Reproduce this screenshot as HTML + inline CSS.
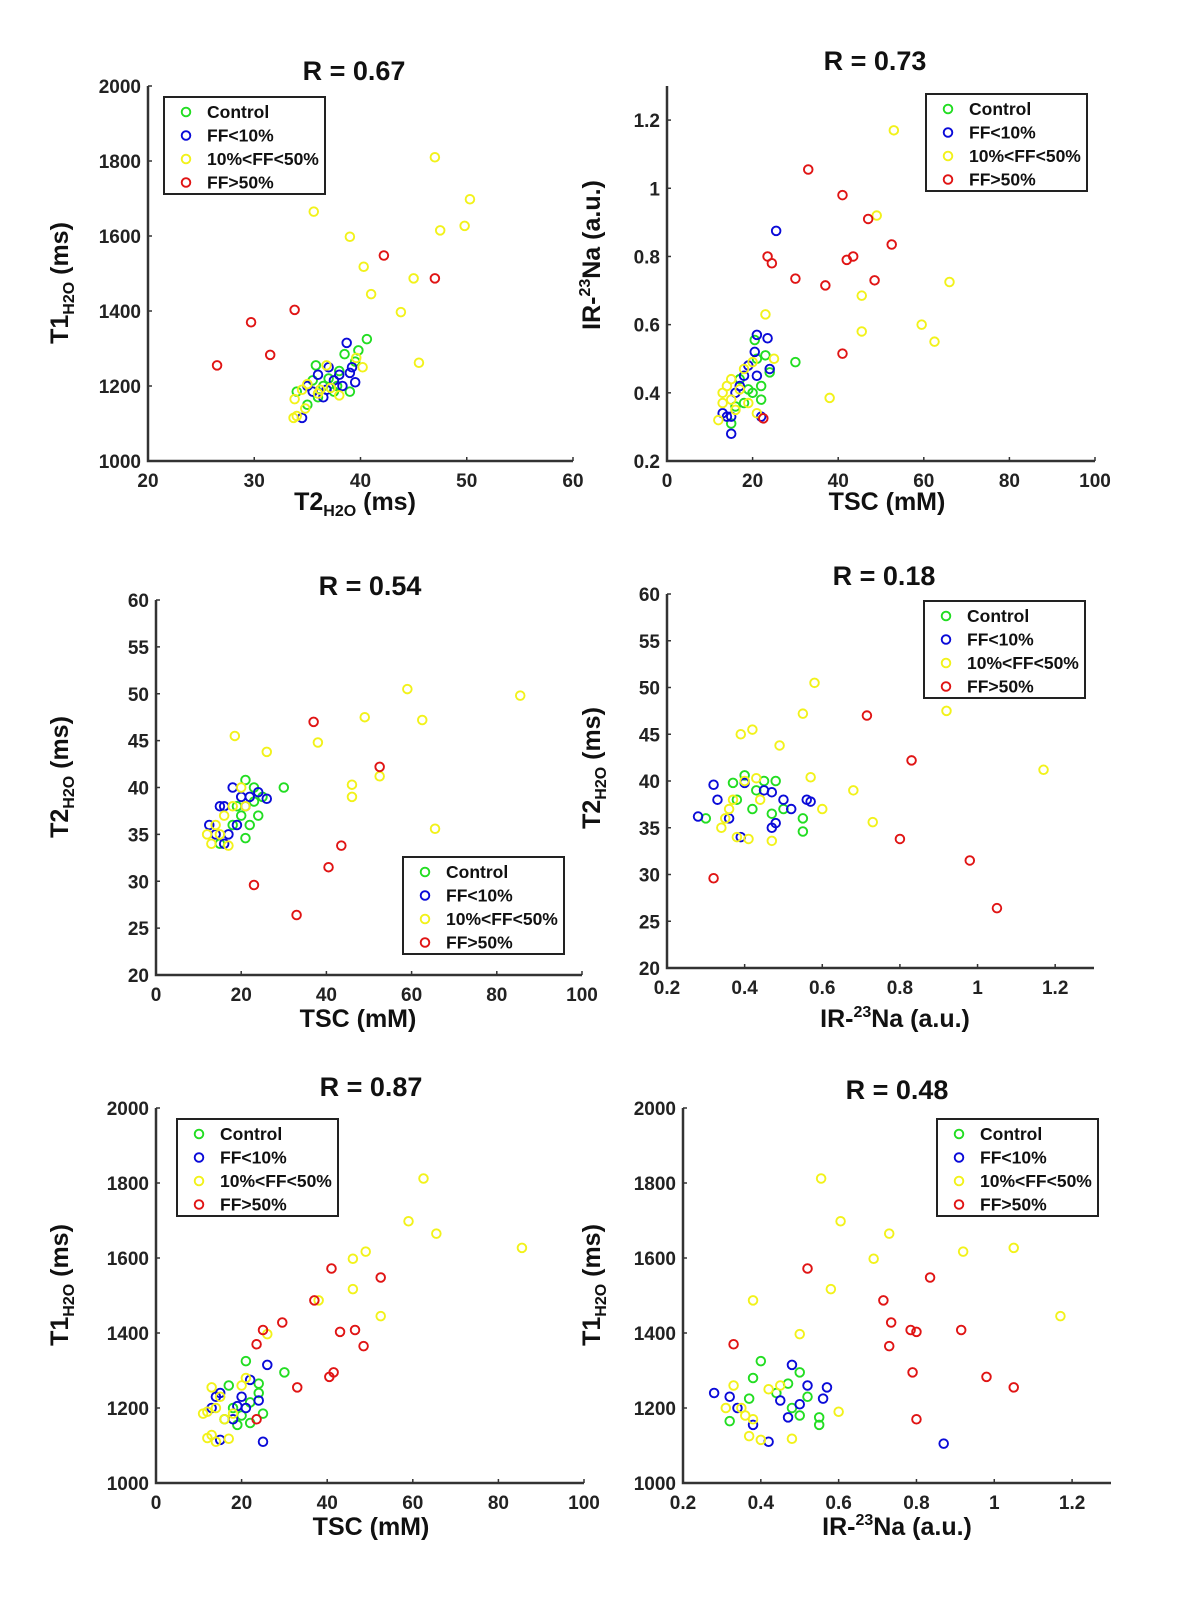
<!DOCTYPE html>
<html><head><meta charset="utf-8">
<style>
html,body{margin:0;padding:0;background:#fff;}
svg{display:block;font-family:"Liberation Sans",Arial,sans-serif;font-weight:bold;}
</style></head>
<body>
<svg id="fig" width="1186" height="1597" viewBox="0 0 1186 1597" xmlns="http://www.w3.org/2000/svg"></svg>
<script>
// ---------- Panel 1: T2 vs T1 ----------
const p1Red = [[26.5,1255],[29.7,1370],[31.5,1283],[33.8,1403],[42.2,1548],[47,1487]];
const p1Yellow = [[35.6,1665],[39,1598],[40.3,1518],[41,1445],[43.8,1397],[45,1487],[45.5,1262],[47,1810],[47.5,1615],[49.8,1627],[50.3,1698],[33.7,1115],[34,1120],[33.8,1165],[34.5,1190],[35,1205],[36,1180],[36.8,1255],[37.2,1195],[38,1175],[39.6,1275],[40.2,1250],[34.8,1140],[36.2,1190]];
const p1Green = [[34,1185],[35,1150],[35.8,1255],[36.5,1200],[37,1220],[37.5,1185],[38,1240],[38.5,1285],[39,1185],[39.5,1265],[39.8,1295],[40.6,1325],[36,1170],[37.8,1200],[35.5,1215]];
const p1Blue = [[34.5,1115],[35,1200],[36,1230],[36.5,1170],[37,1250],[37.5,1215],[38,1230],[38.7,1315],[39,1235],[39.5,1210],[39.2,1250],[35.5,1185],[38.3,1200],[36.8,1190]];
// ---------- Panel 2: TSC vs IR ----------
const p2Red = [[33,1.055],[41,0.98],[47,0.91],[52.5,0.835],[23.5,0.8],[24.5,0.78],[30,0.735],[37,0.715],[42,0.79],[43.5,0.8],[48.5,0.73],[41,0.515],[22.5,0.325]];
const p2Yellow = [[53,1.17],[49,0.92],[45.5,0.685],[45.5,0.58],[59.5,0.6],[62.5,0.55],[66,0.725],[38,0.385],[23,0.63],[25,0.5],[12,0.32],[13,0.4],[14,0.42],[15,0.38],[16,0.35],[17,0.41],[18,0.47],[19,0.37],[20,0.49],[13,0.37],[21,0.34],[15,0.44]];
const p2Green = [[20.5,0.555],[21,0.5],[23,0.51],[24,0.46],[30,0.49],[17,0.44],[19,0.41],[22,0.38],[15,0.31],[18,0.37],[20,0.4],[16,0.36],[22,0.42]];
const p2Blue = [[25.5,0.875],[21,0.57],[23.5,0.56],[20.5,0.52],[19,0.48],[15,0.28],[14,0.33],[15,0.33],[16,0.4],[18,0.45],[21,0.45],[24,0.47],[22,0.33],[13,0.34],[17,0.42]];
// ---------- Panel 3: TSC vs T2 ----------
const p3Red = [[37,47],[52.5,42.2],[43.5,33.8],[40.5,31.5],[23,29.6],[33,26.4]];
const p3Yellow = [[59,50.5],[85.5,49.8],[49,47.5],[62.5,47.2],[18.5,45.5],[26,43.8],[38,44.8],[46,40.3],[46,39],[52.5,41.2],[65.5,35.6],[17,33.8],[12,35],[13,34],[14,36],[15,35],[16,37],[18,38],[20,40],[21,38]];
const p3Green = [[21,40.8],[23,40],[25,39],[30,40],[20,37],[22,36],[24,37],[21,34.6],[18,36],[15,34],[19,38],[23,38.5]];
const p3Blue = [[15,38],[16,38],[18,40],[20,39],[22,39],[26,38.8],[12.5,36],[14,35],[17,35],[19,36],[21,38],[24,39.5],[16,34]];
// ---------- Panel 4: IR vs T2 ----------
const p4Red = [[0.32,29.6],[0.715,47],[0.83,42.2],[0.8,33.8],[0.98,31.5],[1.05,26.4]];
const p4Yellow = [[0.58,50.5],[0.92,47.5],[0.55,47.2],[1.17,41.2],[0.42,45.5],[0.39,45],[0.49,43.8],[0.68,39],[0.73,35.6],[0.6,37],[0.57,40.4],[0.4,40],[0.43,40.3],[0.34,35],[0.35,36],[0.37,38],[0.38,34],[0.41,33.8],[0.47,33.6],[0.36,37],[0.44,38]];
const p4Green = [[0.4,40.6],[0.45,40],[0.48,40],[0.5,37],[0.55,36],[0.55,34.6],[0.38,38],[0.42,37],[0.47,36.5],[0.37,39.8],[0.3,36],[0.43,39]];
const p4Blue = [[0.28,36.2],[0.32,39.6],[0.33,38],[0.39,34],[0.4,39.8],[0.45,39],[0.47,38.8],[0.47,35],[0.5,38],[0.56,38],[0.57,37.8],[0.48,35.5],[0.36,36],[0.52,37]];
// ---------- Panel 5: TSC vs T1 ----------
const p5Red = [[41,1572],[52.5,1548],[37,1487],[29.5,1428],[25,1408],[46.5,1408],[43,1403],[23.5,1370],[48.5,1365],[41.5,1295],[40.5,1283],[33,1255],[23.5,1170]];
const p5Yellow = [[62.5,1812],[59,1698],[65.5,1665],[85.5,1627],[49,1617],[46,1598],[46,1517],[38,1487],[52.5,1445],[26,1397],[12,1120],[13,1128],[14,1110],[17,1118],[12,1190],[14,1200],[16,1170],[18,1185],[20,1260],[21,1280],[13,1255],[15,1230],[11,1185]];
const p5Green = [[21,1325],[30,1295],[24,1265],[22,1215],[20,1180],[17,1260],[24,1240],[19,1155],[22,1160],[25,1185],[16,1170],[18,1200]];
const p5Blue = [[26,1315],[15,1240],[14,1230],[20,1230],[22,1275],[24,1220],[21,1200],[18,1170],[25,1110],[15,1115],[13,1200],[19,1205]];
// ---------- Panel 6: IR vs T1 ----------
const p6Red = [[0.52,1572],[0.835,1548],[0.715,1487],[0.735,1428],[0.785,1408],[0.8,1403],[0.915,1408],[0.33,1370],[0.73,1365],[0.79,1295],[0.98,1283],[1.05,1255],[0.8,1170]];
const p6Yellow = [[0.555,1812],[0.605,1698],[0.73,1665],[1.05,1627],[0.92,1617],[0.69,1598],[0.58,1517],[0.38,1487],[1.17,1445],[0.5,1397],[0.6,1190],[0.33,1260],[0.35,1200],[0.37,1125],[0.4,1115],[0.48,1118],[0.36,1180],[0.38,1170],[0.42,1250],[0.45,1260],[0.31,1200]];
const p6Green = [[0.4,1325],[0.5,1295],[0.38,1280],[0.47,1265],[0.55,1175],[0.55,1155],[0.37,1225],[0.44,1240],[0.48,1200],[0.5,1180],[0.32,1165],[0.52,1230]];
const p6Blue = [[0.28,1240],[0.32,1230],[0.48,1315],[0.57,1255],[0.56,1225],[0.87,1105],[0.42,1110],[0.38,1155],[0.45,1220],[0.5,1210],[0.47,1175],[0.52,1260],[0.34,1200]];

const ticksT1 = ['1000','1200','1400','1600','1800','2000'];
const ticksT2 = ['20','25','30','35','40','45','50','55','60'];
const ticksT2x = ['20','30','40','50','60'];
const ticksTSC = ['0','20','40','60','80','100'];
const ticksIR = ['0.2','0.4','0.6','0.8','1','1.2'];
const legendLabels = ['Control','FF<10%','10%<FF<50%','FF>50%'];
const titles = ['R = 0.67','R = 0.73','R = 0.54','R = 0.18','R = 0.87','R = 0.48'];

const COLORS = {green:'#22dd22', blue:'#0a0ad8', yellow:'#f2f21a', red:'#e01414'};
const NS = 'http://www.w3.org/2000/svg';
const svg = document.getElementById('fig');
function el(tag, attrs, parent){ const e=document.createElementNS(NS,tag); for(const k in attrs) e.setAttribute(k,attrs[k]); (parent||svg).appendChild(e); return e; }

const panels = [
 {id:'p1', x0:148,x1:573,y0:461,y1:86, xmin:20,xmax:60, ymin:1000,ymax:2000, xt:ticksT2x, yt:ticksT1,
  series:[p1Green,p1Blue,p1Yellow,p1Red], title:[354,70], leg:[164,97], xl:[355,510,'T2','H2O',' (ms)'], yl:[68,283,'T1','H2O',' (ms)']},
 {id:'p2', x0:667,x1:1095,y0:461,y1:86, xmin:0,xmax:100, ymin:0.2,ymax:1.3, xt:ticksTSC, yt:ticksIR,
  series:[p2Green,p2Blue,p2Yellow,p2Red], title:[875,60], leg:[926,94], xl:[887,510,'TSC (mM)'], yl:[600,255,'IR-','23','Na (a.u.)',true]},
 {id:'p3', x0:156,x1:582,y0:975,y1:600, xmin:0,xmax:100, ymin:20,ymax:60, xt:ticksTSC, yt:ticksT2,
  series:[p3Green,p3Blue,p3Yellow,p3Red], title:[370,585], leg:[403,857], xl:[358,1027,'TSC (mM)'], yl:[68,777,'T2','H2O',' (ms)']},
 {id:'p4', x0:667,x1:1094,y0:968,y1:594, xmin:0.2,xmax:1.3, ymin:20,ymax:60, xt:ticksIR, yt:ticksT2,
  series:[p4Green,p4Blue,p4Yellow,p4Red], title:[884,575], leg:[924,601], xl:[895,1027,'IR-','23','Na (a.u.)',true], yl:[600,768,'T2','H2O',' (ms)']},
 {id:'p5', x0:156,x1:584,y0:1483,y1:1108, xmin:0,xmax:100, ymin:1000,ymax:2000, xt:ticksTSC, yt:ticksT1,
  series:[p5Green,p5Blue,p5Yellow,p5Red], title:[371,1086], leg:[177,1119], xl:[371,1535,'TSC (mM)'], yl:[68,1285,'T1','H2O',' (ms)']},
 {id:'p6', x0:683,x1:1111,y0:1483,y1:1108, xmin:0.2,xmax:1.3, ymin:1000,ymax:2000, xt:ticksIR, yt:ticksT1,
  series:[p6Green,p6Blue,p6Yellow,p6Red], title:[897,1089], leg:[937,1119], xl:[897,1535,'IR-','23','Na (a.u.)',true], yl:[600,1285,'T1','H2O',' (ms)']}
];
const names = ['green','blue','yellow','red'];
const snames = ['control','ff-under-10','ff-10-to-50','ff-over-50'];

function label(g, spec, rotate, name){
  const [x,y,a,b,c,sup] = spec;
  const t = el('text',{x:x,y:y,'text-anchor':'middle','font-size':'25', fill:'#111'}, g);
  
  
  if(rotate) t.setAttribute('transform',`rotate(-90 ${x} ${y})`);
  if(b===undefined){ t.textContent=a; return; }
  const s1=el('tspan',{},t); s1.textContent=a;
  const s2=el('tspan',{'font-size':'16', dy: sup?'-10':'6'},t); s2.textContent=b;
  const s3=el('tspan',{dy: sup?'10':'-6'},t); s3.textContent=c;
}

panels.forEach((p,pi)=>{
  const g = el('g',{});
  
  
  const sx = v => p.x0 + (v-p.xmin)/(p.xmax-p.xmin)*(p.x1-p.x0);
  const sy = v => p.y0 - (v-p.ymin)/(p.ymax-p.ymin)*(p.y0-p.y1);
  const ax = el('path',{d:`M${p.x0},${p.y1}V${p.y0}H${p.x1}`,fill:'none',stroke:'#333','stroke-width':'2.5'},g);
  
  
  p.xt.forEach(t=>{
    const x=sx(parseFloat(t));
    el('line',{x1:x,x2:x,y1:p.y0,y2:p.y0-4,stroke:'#333','stroke-width':'1.5'},g);
    const tx=el('text',{x:x,y:p.y0+26,'text-anchor':'middle','font-size':'19',fill:'#222'},g);
    
    
    tx.textContent=t;
  });
  p.yt.forEach(t=>{
    const y=sy(parseFloat(t));
    el('line',{x1:p.x0,x2:p.x0+4,y1:y,y2:y,stroke:'#333','stroke-width':'1.5'},g);
    const ty=el('text',{x:p.x0-7,y:y+7,'text-anchor':'end','font-size':'19',fill:'#222'},g);
    
    
    ty.textContent=t;
  });
  p.series.forEach((arr,si)=>{
    const sg = el('g',{},g);
    
    
    arr.forEach(d=>{
      const c=el('circle',{cx:sx(d[0]),cy:sy(d[1]),r:4.3,fill:'none',stroke:COLORS[names[si]],'stroke-width':'1.9'},sg);
      
      
    });
  });
  const tt=el('text',{x:p.title[0],y:p.title[1]+10,'text-anchor':'middle','font-size':'27',fill:'#111'},g);
  
  
  tt.textContent=titles[pi];
  label(g,p.xl,false,'x-axis-title');
  label(g,p.yl,true,'y-axis-title');
  const [lx,ly]=p.leg;
  const lg=el('g',{},g);
  
  
  el('rect',{x:lx,y:ly,width:161,height:97,fill:'#fff',stroke:'#222','stroke-width':'2'},lg);
  legendLabels.forEach((L,i)=>{
    const yy=ly+15+i*23.5;
    const e=el('g',{},lg);
    
    
    el('circle',{cx:lx+22,cy:yy,r:4.3,fill:'none',stroke:COLORS[names[i]],'stroke-width':'1.9'},e);
    const t=el('text',{x:lx+43,y:yy+6,'font-size':'17.5',fill:'#111'},e);
    t.textContent=L;
  });
});
</script>
</body></html>
